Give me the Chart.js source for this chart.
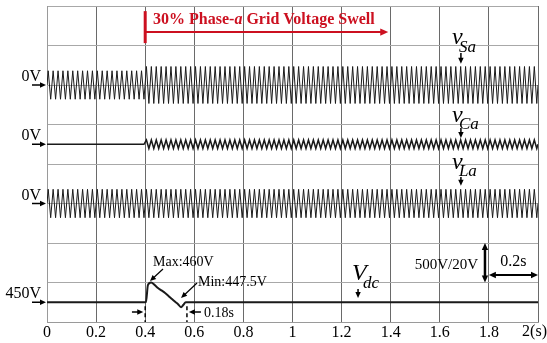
<!DOCTYPE html>
<html>
<head>
<meta charset="utf-8">
<script src="https://cdn.jsdelivr.net/npm/chart.js@4/dist/chart.umd.min.js"></script>
<style>
    html, body { margin: 0; padding: 0; background: #fff; }
    canvas { display: block; }
</style>
</head>
<body>
<canvas id="scope" width="547" height="343"></canvas>
<script>

// time axis (s)
const timeTicks = [0, 0.2, 0.4, 0.6, 0.8, 1, 1.2, 1.4, 1.6, 1.8, 2];

const timeTickLabels = ['0', '0.2', '0.4', '0.6', '0.8', '1', '1.2', '1.4', '1.6', '1.8', '2(s)'];

// 50 Hz grid, one peak per half cycle
const halfCycle = 0.01;

const swellStart = 0.4;

// peak voltages: [before swell, after swell]
const vSaPeak = [180, 234];

const vCaPeak = [0, 54];

const vLaPeak = [180, 180];

// dc-link voltage
const vdcTime = [0, 0.403, 0.411, 0.424, 0.438, 0.452, 0.466, 0.481, 0.495, 0.509, 0.522, 0.534, 0.546, 0.555, 0.565, 0.6, 2];

const vdcVolts = [450, 450, 458.7, 460, 458.8, 457.2, 456, 454.7, 453.2, 451.6, 450.2, 449, 447.5, 448.6, 450, 450, 450];

// scope settings: 500V/div for ac, 20V/div for dc
const acVoltsPerDiv = 500;
const dcVoltsPerDiv = 20;

const offsets = { vSa: 6, vCa: 4.5, vLa: 3, vdc: 0.5 };

const serif = '"Liberation Serif", "Times New Roman", serif';

const red = '#cc1020';

const acTrace = (peaks, offset) => {

    const points = [{ x: 0, y: offset }];

    for (let k = 0; k * halfCycle < 2 - 1e-9; k++) {

        const t = (k + 0.5) * halfCycle;
        const peak = t < swellStart ? peaks[0] : peaks[1];
        const sign = k % 2 === 0 ? 1 : -1;

        points.push({ x: t, y: offset + sign * peak / acVoltsPerDiv });

    }

    points.push({ x: 2, y: offset });

    return points;

};

const dcTrace = vdcTime.map((t, i) => ({ x: t, y: offsets.vdc + (vdcVolts[i] - 450) / dcVoltsPerDiv }));

const arrow = (ctx, x1, y1, x2, y2, opts = {}) => {

    const { color = '#000', width = 1.5, head = 7, both = false } = opts;

    const drawHead = (fx, fy, tx, ty) => {
        const a = Math.atan2(ty - fy, tx - fx);
        ctx.beginPath();
        ctx.moveTo(tx, ty);
        ctx.lineTo(tx - head * Math.cos(a) + head * 0.45 * Math.sin(a), ty - head * Math.sin(a) - head * 0.45 * Math.cos(a));
        ctx.lineTo(tx - head * Math.cos(a) - head * 0.45 * Math.sin(a), ty - head * Math.sin(a) + head * 0.45 * Math.cos(a));
        ctx.closePath();
        ctx.fill();
    };

    ctx.save();
    ctx.strokeStyle = color;
    ctx.fillStyle = color;
    ctx.lineWidth = width;

    const a = Math.atan2(y2 - y1, x2 - x1);
    const sx = both ? x1 + head * 0.8 * Math.cos(a) : x1;
    const sy = both ? y1 + head * 0.8 * Math.sin(a) : y1;

    ctx.beginPath();
    ctx.moveTo(sx, sy);
    ctx.lineTo(x2 - head * 0.8 * Math.cos(a), y2 - head * 0.8 * Math.sin(a));
    ctx.stroke();

    drawHead(x1, y1, x2, y2);
    if (both) drawHead(x2, y2, x1, y1);

    ctx.restore();

};

const text = (ctx, str, x, y, font, align = 'left', color = '#000') => {
    ctx.save();
    ctx.font = font;
    ctx.fillStyle = color;
    ctx.textAlign = align;
    ctx.textBaseline = 'middle';
    ctx.fillText(str, x, y);
    ctx.restore();
};

const annotations = {

    id: 'annotations',

    afterDatasetsDraw(chart) {

        const { ctx, chartArea, scales: { x, y } } = chart;

        const px = t => x.getPixelForValue(t);
        const py = d => y.getPixelForValue(d);

        // last time label sits flush with the right edge
        text(ctx, timeTickLabels[timeTickLabels.length - 1], chart.width, x.top + 10, '16px ' + serif, 'right');

        // swell marker
        ctx.save();
        ctx.strokeStyle = red;
        ctx.lineWidth = 3;
        ctx.beginPath();
        ctx.moveTo(px(0.4), py(7.87));
        ctx.lineTo(px(0.4), py(7.06));
        ctx.stroke();
        ctx.restore();

        arrow(ctx, px(0.4), py(7.34), px(1.39), py(7.34), { color: red, width: 2, head: 8 });

        ctx.save();
        ctx.fillStyle = red;
        ctx.textBaseline = 'middle';
        let cx = px(0.432);
        const cy = py(7.65);
        ctx.font = 'bold 16px ' + serif;
        ctx.fillText('30% Phase-', cx, cy);
        cx += ctx.measureText('30% Phase-').width;
        ctx.font = 'italic bold 16px ' + serif;
        ctx.fillText('a', cx, cy);
        cx += ctx.measureText('a').width;
        ctx.font = 'bold 16px ' + serif;
        ctx.fillText(' Grid Voltage Swell', cx, cy);
        ctx.restore();

        // zero / level markers on the left
        const left = chartArea.left;

        [['0V', offsets.vSa], ['0V', offsets.vCa], ['0V', offsets.vLa], ['450V', offsets.vdc]].forEach(([label, d]) => {

            text(ctx, label, left - 6, py(d) - 8, '16px ' + serif, 'right');
            arrow(ctx, left - 15, py(d), left - 1, py(d), { width: 1.5, head: 6 });

        });

        // trace names
        const traceLabel = (main, sub, t, dMain, dSub, dArrow) => {

            const ax = px(t);
            text(ctx, main, ax - 9, py(dMain), 'italic 24px ' + serif);
            text(ctx, sub, ax - 2, py(dSub), 'italic 17px ' + serif);
            arrow(ctx, ax, py(dArrow[0]), ax, py(dArrow[1]), { width: 1.5, head: 6 });

        };

        traceLabel('v', 'Sa', 1.686, 7.19, 6.96, [6.81, 6.54]);
        traceLabel('v', 'Ca', 1.686, 5.22, 5.01, [4.91, 4.66]);
        traceLabel('v', 'La', 1.686, 4.03, 3.82, [3.67, 3.45]);

        text(ctx, 'V', px(1.242), py(1.215), 'italic 24px ' + serif);
        text(ctx, 'dc', px(1.287), py(0.962), 'italic 17px ' + serif);
        arrow(ctx, px(1.267), py(0.835), px(1.267), py(0.61), { width: 1.5, head: 6 });

        // dc overshoot notes
        text(ctx, 'Max:460V', px(0.432), py(1.52), '14px ' + serif);
        arrow(ctx, px(0.4725), py(1.342), px(0.4196), py(1.038), { width: 1.2, head: 6 });

        text(ctx, 'Min:447.5V', px(0.615), py(1.013), '14px ' + serif);
        arrow(ctx, px(0.611), py(0.987), px(0.546), py(0.608), { width: 1.2, head: 6 });

        ctx.save();
        ctx.strokeStyle = '#000';
        ctx.lineWidth = 1.5;
        ctx.setLineDash([4, 3]);
        [0.4, 0.57].forEach(t => {
            ctx.beginPath();
            ctx.moveTo(px(t), py(0.4));
            ctx.lineTo(px(t), py(0));
            ctx.stroke();
        });
        ctx.restore();

        arrow(ctx, px(0.346), py(0.253), px(0.392), py(0.253), { width: 1.5, head: 6 });
        arrow(ctx, px(0.627), py(0.253), px(0.578), py(0.253), { width: 1.5, head: 6 });
        text(ctx, '0.18s', px(0.64), py(0.228), '14px ' + serif);

        // scale legend
        text(ctx, '500V/20V', px(1.756), py(1.443), '15px ' + serif, 'right');
        arrow(ctx, px(1.784), py(2), px(1.784), py(1), { width: 2.5, head: 7, both: true });
        arrow(ctx, px(1.8), py(1.19), px(2), py(1.19), { width: 2, head: 7, both: true });
        text(ctx, '0.2s', px(1.9), py(1.52), '16px ' + serif, 'center');

    }

};

const traceStyle = {
    borderColor: '#1a1a1a',
    borderWidth: 1,
    pointRadius: 0,
    fill: false,
    tension: 0
};

new Chart(document.getElementById('scope').getContext('2d'), {

    type: 'line',

    data: {
        datasets: [
            { label: 'vSa', data: acTrace(vSaPeak, offsets.vSa), ...traceStyle },
            { label: 'vCa', data: acTrace(vCaPeak, offsets.vCa), ...traceStyle, borderWidth: 1.5 },
            { label: 'vLa', data: acTrace(vLaPeak, offsets.vLa), ...traceStyle },
            { label: 'Vdc', data: dcTrace, ...traceStyle, borderWidth: 2, cubicInterpolationMode: 'monotone' }
        ]
    },

    options: {
        responsive: false,
        animation: false,
        layout: { padding: { left: 47, right: 9, top: 6, bottom: 0 } },
        plugins: { legend: { display: false }, tooltip: { enabled: false } },
        scales: {
            x: {
                type: 'linear',
                min: 0,
                max: 2,
                afterFit: scale => {
                    scale.height = 21;
                    scale.paddingLeft = 0;
                    scale.paddingRight = 0;
                },
                afterBuildTicks: scale => { scale.ticks = timeTicks.map(v => ({ value: v })); },
                ticks: {
                    // the last label is drawn by the annotations plugin
                    callback: (value, index) => index === timeTicks.length - 1 ? '' : timeTickLabels[index],
                    color: '#000',
                    font: { family: serif, size: 16 },
                    padding: 1,
                    maxRotation: 0,
                    autoSkip: false
                },
                grid: { color: '#6a6a6a', lineWidth: 1, drawTicks: false },
                border: { color: '#9a9a9a' }
            },
            y: {
                min: 0,
                max: 8,
                afterFit: scale => {
                    scale.width = 0;
                    scale.paddingTop = 0;
                    scale.paddingBottom = 0;
                },
                ticks: { display: false, stepSize: 1 },
                grid: { color: '#a8a8a8', lineWidth: 1, drawTicks: false },
                border: { color: '#9a9a9a' }
            }
        }
    },

    plugins: [annotations]

});

</script>
</body>
</html>
